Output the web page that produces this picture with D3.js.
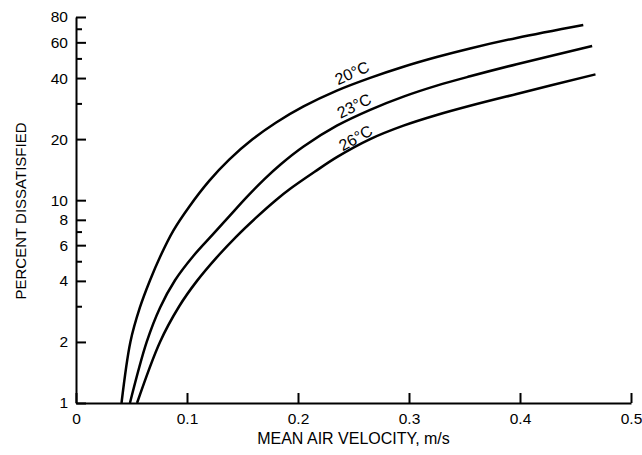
<!DOCTYPE html>
<html>
<head>
<meta charset="utf-8">
<script src="https://cdn.jsdelivr.net/npm/d3@7"></script>
<style>
  body { margin: 0; background: #fff; }
  svg { display: block; font-family: "Liberation Sans", Arial, sans-serif; }
</style>
</head>
<body>
<svg id="chart" width="642" height="455"></svg>
<script>
// curves: [velocity m/s, percent dissatisfied]
const curve20 = [
  [0.041, 1], [0.0490, 2.0], [0.0575, 2.95], [0.0667, 4.03], [0.0757, 5.25], [0.0877, 7.08],
  [0.102, 9.29], [0.120, 12.45], [0.138, 15.85], [0.159, 19.95], [0.180, 24.1], [0.205, 29.0],
  [0.235, 34.7], [0.265, 40.1], [0.295, 45.5], [0.325, 50.8], [0.355, 56.0], [0.397, 63.1],
  [0.457, 73.1]
];
const curve23 = [
  [0.0486, 1], [0.0637, 2.0], [0.0757, 2.95], [0.0892, 4.03], [0.1057, 5.31], [0.1237, 6.82],
  [0.138, 8.32], [0.1538, 10.35], [0.170, 12.74], [0.184, 14.96], [0.205, 18.4], [0.235, 23.3],
  [0.265, 27.9], [0.295, 32.4], [0.325, 36.7], [0.355, 40.8], [0.397, 46.8], [0.465, 57.5]
];
const curve26 = [
  [0.055, 1], [0.0757, 2.0], [0.093, 3.0], [0.109, 4.0], [0.127, 5.24], [0.144, 6.58],
  [0.162, 8.18], [0.180, 10.0], [0.193, 11.38], [0.215, 13.8], [0.235, 16.3], [0.265, 20.0],
  [0.295, 23.3], [0.325, 26.3], [0.355, 29.2], [0.397, 33.4], [0.468, 41.7]
];
const curveNames = ["20°C", "23°C", "26°C"];
// where each curve name sits (velocity, percent) and its tilt
const labelAt = [[0.2495, 41.4, -24], [0.2514, 28.5, -26], [0.2529, 19.8, -29]];

const xTicks = [0, 0.1, 0.2, 0.3, 0.4, 0.5];
const yMajor = [1, 2, 4, 6, 8, 10, 20, 40, 60, 80];
const yMinor = [3, 5, 7, 30, 50, 70];

const svg = d3.select("#chart");
const mLeft = 76, mRight = 631, mTop = 17, mBottom = 403;

const x = d3.scaleLinear().domain([0, 0.5]).range([mLeft, mRight]);
const y = d3.scaleLog().domain([1, 80]).range([mBottom, mTop]);

// x axis, ticks pointing up into the plot
const gx = svg.append("g")
  .attr("transform", `translate(0,${mBottom})`)
  .call(d3.axisBottom(x).tickValues(xTicks).tickFormat(d3.format("")).tickSize(-10).tickSizeOuter(0).tickPadding(10));

// y axis, major + minor ticks pointing right
const gy = svg.append("g")
  .attr("transform", `translate(${mLeft},0)`)
  .call(d3.axisLeft(y).tickValues(yMajor).tickFormat(d3.format("d")).tickSize(-10).tickSizeOuter(0).tickPadding(8));

svg.append("g")
  .attr("transform", `translate(${mLeft},0)`)
  .call(d3.axisLeft(y).tickValues(yMinor).tickFormat("").tickSize(-6).tickSizeOuter(0))
  .select(".domain").remove();

svg.selectAll(".domain, .tick line").attr("stroke", "#000").attr("stroke-width", 2);
svg.selectAll(".tick text").attr("font-size", 15.5).attr("fill", "#000")
  .attr("font-family", "Liberation Sans, Arial, sans-serif");
gx.selectAll(".tick text").attr("dy", "0.7em");

// curves
const line = d3.line()
  .x(d => x(d[0]))
  .y(d => y(d[1]))
  .curve(d3.curveCatmullRom.alpha(0.5));

svg.append("g")
  .selectAll("path")
  .data([curve20, curve23, curve26])
  .join("path")
  .attr("fill", "none")
  .attr("stroke", "#000")
  .attr("stroke-width", 2.5)
  .attr("d", line);

svg.append("g")
  .selectAll("text")
  .data(curveNames)
  .join("text")
  .attr("transform", (d, i) => `translate(${x(labelAt[i][0])},${y(labelAt[i][1])}) rotate(${labelAt[i][2]})`)
  .attr("text-anchor", "middle")
  .attr("dy", "0.2em")
  .attr("font-size", 16)
  .text(d => d);

// axis titles
svg.append("text")
  .attr("x", (mLeft + mRight) / 2)
  .attr("y", 444)
  .attr("text-anchor", "middle")
  .attr("font-size", 16)
  .text("MEAN AIR VELOCITY, m/s");

svg.append("text")
  .attr("transform", `translate(26,211) rotate(-90)`)
  .attr("text-anchor", "middle")
  .attr("font-size", 15)
  .text("PERCENT DISSATISFIED");
</script>
</body>
</html>
